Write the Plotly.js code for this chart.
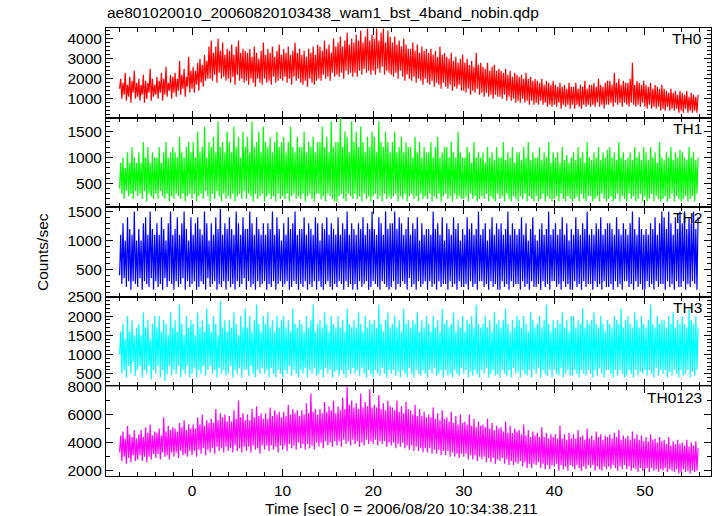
<!DOCTYPE html>
<html>
<head>
<meta charset="utf-8">
<script src="https://cdn.plot.ly/plotly-3.0.1.min.js"></script>
<style>html,body{margin:0;padding:0;background:#fff;}#chart{width:717px;height:516px;}</style>
</head>
<body>
<div id="chart"></div>
<script>
// Time sampling: start -8 s, step 0.125 s
const timeStart = -8;
const timeStep = 0.125;

const bandNames = ["TH0", "TH1", "TH2", "TH3", "TH0123"];
const bandColors = ["#ff0000", "#00ff00", "#0000ff", "#00ffff", "#ff00ff"];

const th0 = [
1500,2000,1000,1800,1200,2300,900,1700,1100,2100,800,1900,1300,2400,1000,1800,
1100,2000,900,1700,1200,2200,800,1900,1000,1800,1300,2500,900,2000,1100,1700,
1200,2100,1000,1900,1300,2300,900,2000,1200,2600,1100,1800,1400,2200,1000,2100,
1300,2300,1100,2000,1400,2900,1200,2200,1500,2500,1100,2100,1600,3100,1300,2400,
1500,2600,1300,2400,1700,2800,1400,3000,1800,2700,1600,3200,1900,2900,2000,3600,
2000,3900,1900,3300,2200,3600,1800,4000,2300,3400,2000,3800,2100,3200,1900,3500,
2000,3400,1800,3700,2100,3200,1700,3600,2200,3900,1900,3300,2000,3500,1800,3400,
1900,3300,1700,3500,2000,3100,1800,3600,1600,3300,2000,3000,1800,3400,1700,3800,
2000,3200,1800,3500,1900,3300,1700,3600,2100,3100,1800,3400,1900,3700,2000,3200,
1900,3500,2100,3300,1800,3600,2000,3200,1700,3400,2100,3800,1900,3300,2000,3500,
1800,3200,1700,3400,1900,3100,1600,3500,2000,3300,1800,3600,1700,3200,1900,3700,
2000,3600,1900,3400,2200,3900,2000,3500,2100,3700,1900,3300,2300,4000,2100,3600,
2200,3800,2100,4100,2300,3600,2000,3900,2400,4300,2200,3700,2300,4000,2100,3800,
2300,4200,2100,3900,2400,4400,2200,3800,2500,4100,2300,4500,2400,3900,2200,4200,
2400,4000,2200,4500,2500,3900,2300,4300,2600,4500,2200,3800,2400,4400,2300,4100,
2200,3800,2100,4100,2300,3700,2000,3900,2400,3600,2100,4000,1900,3700,2200,3500,
2000,3500,1900,3800,2100,3400,1800,3700,2000,3300,1900,3600,1700,3400,2000,3500,
1800,3300,1700,3500,1900,3200,1600,3400,1800,3100,1700,3600,1500,3200,1800,3300,
1600,3100,1500,3000,1700,3300,1400,2900,1600,3100,1500,2800,1700,3000,1400,3200,
1400,2800,1300,3000,1500,2700,1200,2900,1400,2600,1300,3300,1500,2700,1200,2800,
1300,2600,1100,2500,1300,2800,1100,2400,1200,2600,1000,2700,1200,2400,1100,2500,
1100,2400,1000,2300,1200,2500,900,2200,1100,2400,900,2100,1000,2300,800,2200,
900,2100,800,2200,1000,2000,800,2300,900,2000,700,2100,900,1900,700,2000,
800,1900,700,1800,900,2000,700,1700,800,1900,600,1800,700,1700,600,1900,
700,1700,600,1600,800,1800,500,1600,700,1700,600,1500,700,1800,500,1600,
700,1600,500,1800,700,1500,600,1700,500,1600,700,1900,600,1500,700,1700,
600,1700,700,1800,600,1600,800,2000,600,1700,700,1600,500,1800,700,1900,
700,1900,800,1700,600,2300,800,1800,700,2000,800,1700,600,1900,800,1800,
700,1800,600,2000,800,2800,700,1700,600,1900,700,1800,600,1700,800,1900,
600,1700,500,1600,700,1800,500,1500,600,1700,500,1600,600,1500,400,1700,
500,1500,400,1400,600,1300,400,1500,500,1300,400,1400,500,1200,300,1400,
400,1300,300,1200,500,1400,300,1100,400,1300,300,1200,400,1100,300,1200
];

const th1 = [
400,900,300,1000,200,800,350,1100,250,900,300,1200,200,1000,350,900,
250,1100,300,900,200,1300,350,1000,150,1200,300,900,250,1100,200,1000,
300,1000,200,1200,350,900,250,1100,200,1300,300,1000,150,1100,250,1200,
200,1100,300,1000,250,1400,200,1100,300,1000,150,1200,250,1300,300,1100,
200,1300,300,1000,150,1500,250,1100,300,1200,200,1600,350,1000,250,1300,
150,1200,300,1400,200,1100,350,1700,250,1200,150,1300,300,1100,200,1500,
250,1300,200,1100,300,1600,150,1200,250,1400,300,1000,200,1500,350,1200,
200,1400,300,1100,250,1700,150,1200,300,1300,200,1500,250,1100,300,1600,
150,1300,250,1200,300,1400,200,1100,250,1300,150,1500,300,1200,200,1300,
250,1400,200,1100,300,1300,150,1600,250,1200,300,1100,200,1400,250,1200,
200,1200,300,1500,150,1100,250,1300,300,1200,200,1400,150,1100,300,1300,
300,1300,200,1600,250,1200,150,1400,300,1100,250,1700,200,1200,150,1300,
150,1300,250,1800,300,1200,200,1500,150,1400,300,1100,250,1700,200,1300,
300,1500,200,1200,250,1600,150,1300,300,1100,200,1400,250,1200,150,1500,
250,1400,300,1100,200,1700,250,1300,150,1200,300,1500,200,1300,250,1100,
200,1300,250,1500,300,1100,150,1200,250,1400,200,1100,300,1300,150,1200,
250,1200,300,1000,200,1400,250,1100,150,1300,300,1000,200,1200,250,1100,
200,1100,300,1300,150,1000,250,1200,200,1400,300,1000,150,1100,250,1200,
300,1200,200,1000,250,1300,150,1100,300,1000,200,1500,250,1100,200,1000,
200,1000,250,1200,150,1100,300,900,200,1300,250,1000,150,1100,200,1000,
250,1100,200,900,300,1200,150,1000,250,1100,200,950,150,1200,300,1000,
200,1000,250,1300,150,950,300,1100,200,1000,150,1200,250,900,200,1100,
150,1100,250,950,200,1200,300,1000,150,1300,250,950,200,1100,150,1000,
250,1000,150,1200,200,950,300,1100,150,1000,250,1300,200,900,150,1100,
200,1000,250,1100,150,900,300,1200,200,950,150,1050,250,900,200,1000,
150,1100,200,950,250,1200,150,1000,300,1100,200,900,150,1300,250,1000,
250,950,150,1100,200,1000,250,1200,150,950,300,1100,200,1000,150,1150,
200,1200,250,1000,150,1100,200,950,300,1300,150,1000,250,1100,200,950,
150,1000,300,1100,200,950,250,1200,150,1000,200,1100,300,950,150,1200,
250,1100,150,950,200,1200,300,1000,150,1100,250,900,200,1300,150,1000,
200,950,250,1100,150,1000,200,1200,300,950,150,1100,250,1000,200,1150,
150,1100,200,1000,250,950,150,1200,200,1000,250,1100,150,950,300,1000
];

const th2 = [
400,1100,250,1300,350,1000,200,1400,300,1200,150,1100,300,1500,250,1000,
200,1200,350,1000,150,1300,300,1400,250,1100,200,1500,350,1200,150,1100,
300,1300,200,1100,250,1400,150,1200,350,1000,200,1300,300,1500,250,1100,
150,1200,300,1400,200,1100,250,1300,350,1500,150,1200,300,1000,200,1400,
250,1100,300,1300,150,1400,200,1200,300,1100,250,1500,150,1300,350,1000,
200,1300,250,1100,300,1400,150,1200,250,1550,200,1100,300,1300,150,1200,
300,1400,200,1200,250,1100,150,1500,300,1300,200,1100,250,1400,350,1200,
150,1200,300,1500,200,1300,250,1100,150,1400,300,1200,200,1100,250,1300,
300,1100,150,1300,250,1200,200,1500,300,1100,150,1400,250,1200,300,1000,
200,1300,250,1100,300,1400,150,1200,200,1300,300,1500,250,1100,150,1200,
250,1200,200,1400,300,1100,150,1300,250,1200,200,1100,300,1400,150,1300,
300,1000,200,1300,150,1200,250,1400,300,1100,200,1300,150,1200,250,1100,
200,1400,300,1100,250,1300,150,1200,300,1500,200,1100,250,1300,150,1200,
250,1100,150,1300,300,1200,200,1400,250,1100,300,1300,150,1200,200,1500,
300,1200,250,1100,200,1400,150,1300,300,1100,250,1500,200,1200,150,1300,
200,1300,300,1500,150,1200,250,1400,200,1300,300,1100,250,1200,150,1400,
350,1100,200,1300,250,1200,150,1400,300,1000,200,1300,250,1100,300,1200,
150,1200,300,1100,200,1500,250,1200,150,1300,300,1100,200,1400,250,1000,
250,1300,150,1200,300,1100,200,1400,250,1200,150,1300,300,1000,200,1200,
200,1100,250,1400,150,1200,300,1300,200,1100,250,1200,150,1500,300,1100,
300,1200,200,1300,250,1000,150,1200,300,1400,200,1100,250,1300,150,1200,
150,1300,300,1100,200,1200,250,1500,150,1100,300,1300,200,1200,250,1100,
250,1200,150,1400,300,1100,200,1300,250,1000,150,1200,300,1400,200,1100,
200,1000,250,1200,150,1300,300,1100,200,1200,250,1500,150,1100,300,1200,
300,1300,200,1100,250,1200,150,1400,300,1100,200,1300,250,1000,150,1200,
150,1100,300,1400,200,1200,250,1100,150,1300,300,1200,200,1500,250,1100,
250,1200,150,1100,300,1300,200,1200,250,1400,150,1100,300,1200,200,1300,
200,1300,250,1200,150,1100,300,1400,200,1200,250,1100,150,1300,300,1200,
300,1100,200,1300,250,1500,150,1200,300,1100,200,1400,250,1200,150,1100,
150,1200,300,1100,200,1300,250,1200,150,1400,300,1100,200,1300,250,1500,
250,1400,150,1200,300,1500,200,1300,250,1100,150,1400,300,1200,200,1500,
200,1300,300,1500,150,1200,250,1400,200,1300,300,1500,250,1200,150,1400
];

const th3 = [
1000,1600,500,1800,600,1400,400,2000,700,1600,500,1900,800,1500,450,1700,
600,1800,700,1500,400,2100,600,1700,500,1900,700,1400,350,1800,600,2000,
500,1700,700,2000,400,1600,600,1900,300,1800,500,1500,700,2100,450,1700,
600,1900,500,1600,700,2300,400,1800,600,1500,500,2000,700,1700,400,1900,
500,1800,650,1500,400,2100,600,1700,500,1900,700,1600,450,2200,600,1800,
700,1600,500,2000,600,1800,400,1500,650,2400,500,1700,600,1900,450,1600,
500,1900,700,1700,400,2100,600,1800,500,1500,650,2000,400,1700,600,2200,
600,1700,450,2000,700,1600,500,1900,400,2300,600,1800,500,1600,650,2000,
500,1800,600,2100,400,1700,650,1900,500,1600,400,2000,600,1700,500,1900,
400,2000,600,1700,500,1900,700,1600,450,2200,600,1800,500,1700,400,1900,
600,1800,500,1600,650,2000,400,1700,600,1900,500,2300,650,1600,450,1800,
500,1900,600,1700,400,2100,650,1800,500,1600,600,2000,400,1800,550,1700,
600,2000,450,1700,600,1900,500,1600,400,2200,600,1800,500,1700,650,1900,
500,1700,600,2100,450,1800,650,1600,500,2000,400,1700,600,1900,500,1800,
400,1900,600,1700,500,2300,450,1800,650,1600,500,1900,400,2100,600,1700,
500,1800,600,2000,450,1700,550,1900,400,1600,600,2200,500,1800,400,1900,
650,1700,500,1900,400,1800,600,2100,500,1600,450,1900,600,1700,500,2000,
400,1800,600,1600,500,2000,650,1700,450,1900,500,1600,600,2200,400,1800,
600,1900,450,1700,500,1800,400,2100,600,1600,500,1900,450,1700,650,2000,
500,1600,600,1900,400,1800,550,2000,450,1700,600,2300,500,1800,400,1700,
600,1800,500,2000,650,1700,400,1900,500,1600,600,2100,450,1800,500,1900,
400,1700,600,1900,500,2200,450,1800,600,1600,400,1900,650,1700,500,2000,
550,1900,400,1700,600,2000,500,1800,450,1600,600,2100,400,1900,600,1700,
500,1800,650,2000,400,1700,600,1900,500,2300,450,1800,600,1600,400,1900,
600,1700,500,1900,450,1800,650,2100,400,1700,500,1900,600,1600,450,2000,
450,2000,600,1700,500,1900,400,1800,600,2200,500,1700,450,1900,600,1800,
500,1900,400,2100,600,1800,450,1700,650,2000,500,1800,400,1600,600,1900,
600,1800,500,1700,400,2000,600,1900,450,1800,600,2200,500,1700,400,1900,
450,2000,600,1800,500,1700,400,2100,600,1900,450,1700,550,2000,500,1800,
600,1700,450,1900,600,2300,500,1800,400,1700,650,2000,450,1800,600,1900,
500,1900,600,1700,400,2000,550,1800,450,2100,600,1700,500,1900,400,1800,
600,2000,450,1800,500,1700,600,2200,400,1900,550,1800,450,2000,600,1700
];

const th0123 = [
3300,4500,2700,4800,3000,4300,2500,5200,2900,4600,2600,4400,3100,4900,2700,4300,
2800,4600,3100,4900,2700,4400,3000,5100,2600,4700,3000,5300,2800,4500,3200,4800,
2900,4700,3200,5000,2800,4500,3300,5800,3000,4800,3100,5200,2800,4900,3300,5100,
3000,5000,3300,4800,2900,5400,3400,5100,3100,5600,3200,4900,3000,5300,3400,5000,
3100,5300,3400,5000,3000,5800,3500,5300,3200,6000,3600,5200,3100,5600,3500,5400,
3300,5700,3600,5400,3200,6400,3700,5600,3400,6100,3600,5800,3300,6000,3700,5500,
3400,5900,3600,5500,3300,6300,3800,5700,3400,7000,3600,5800,3300,6100,3700,5600,
3400,6000,3700,5600,3300,6400,3800,5800,3500,6600,3600,5900,3200,6100,3800,5700,
3500,6100,3800,5700,3400,6500,3800,5900,3500,6300,3700,6000,3300,6200,3800,5800,
3500,6200,3800,5900,3400,6700,3900,6000,3600,6400,3800,6100,3500,6300,4000,5900,
3600,6300,3900,6000,3500,6800,3900,6100,3600,7500,3800,6200,3500,6400,4000,6000,
3700,6400,4000,6100,3600,6900,4100,6200,3800,6600,4000,6300,3700,7000,4100,6100,
3800,6600,4100,6300,3700,7200,4200,6400,3900,8000,4100,6700,3800,7000,4200,6500,
3900,6800,4100,6400,3700,7500,4000,6500,3800,6900,4200,6600,3900,7800,4100,6500,
3900,6700,4200,6500,3800,7400,4100,6400,3900,6800,4100,6300,3700,7000,4000,6600,
3800,6500,4000,6300,3600,7000,3900,6200,3700,6600,4000,6100,3600,6900,3800,6400,
3500,6300,3800,6000,3400,6700,3700,5900,3400,6400,3600,5900,3300,6200,3600,5800,
3300,6000,3600,5800,3200,6500,3500,5700,3200,6100,3500,5600,3100,6300,3400,5700,
3100,5800,3400,5500,3000,6200,3300,5400,3000,5900,3200,5300,2900,6000,3200,5400,
3000,5500,3200,5300,2800,6000,3100,5200,2800,5700,3100,5100,2700,5500,3000,5200,
2800,5300,3000,5100,2600,5700,2900,5000,2600,5400,2900,4900,2500,5200,2800,5000,
2700,5100,2900,4800,2500,5500,2800,4700,2400,5200,2700,4700,2400,5000,2600,4800,
2500,4900,2700,4600,2300,5300,2600,4500,2200,4900,2500,4400,2200,4800,2500,4500,
2400,4700,2600,4400,2200,5100,2500,4400,2100,4700,2400,4300,2100,4600,2400,4400,
2300,4600,2500,4300,2000,5200,2400,4300,2100,4600,2300,4200,2000,4700,2400,4300,
2300,4600,2100,4300,2400,4900,2200,4400,2000,4500,2300,4200,2100,5000,2400,4300,
2200,4500,2400,4200,2000,4800,2300,4400,2100,4600,2000,4200,2300,4500,2100,4400,
2300,4600,2100,4300,2400,4700,2200,4400,2000,4900,2300,4200,2100,4500,2400,4300,
2100,4500,2300,4200,2000,4800,2200,4300,2100,4600,1900,4200,2200,4500,2000,4100,
2100,4400,2200,4100,1900,4600,2200,4200,2000,4300,2100,4000,1900,4400,2100,4100,
2000,4200,2200,3900,1900,4400,2100,3800,2000,4100,1900,3900,2100,4200,1800,3900,
1900,4000,2100,3800,1900,4200,2000,3700,1800,4000,2000,3800,1900,4100,2000,3600
];

const series = [th0, th1, th2, th3, th0123];

const titleText = "ae801020010_20060820103438_wam1_bst_4band_nobin.qdp";
const xTitle = "Time [sec] 0 = 2006/08/20 10:34:38.211";
const yTitle = "Counts/sec";

const FONT = "Liberation Sans, Arial, Helvetica, sans-serif";
const FS = 15.5;

const traces = series.map((ys, i) => ({
  type: "scatter",
  mode: "lines",
  x0: timeStart,
  dx: timeStep,
  y: ys,
  xaxis: i === 0 ? "x" : "x" + (i + 1),
  yaxis: i === 0 ? "y" : "y" + (i + 1),
  line: { color: bandColors[i], width: 1.2, simplify: false },
  hoverinfo: "skip",
  showlegend: false
}));

const yRanges = [[60, 4530], [40, 1770], [30, 1575], [170, 2502], [1620, 8010]];
const yDticks = [1000, 500, 500, 500, 2000];
const yMinor = [200, 100, 100, 100, 1000];

const layout = {
  width: 717,
  height: 516,
  margin: { l: 106, r: 6, t: 28, b: 40 },
  paper_bgcolor: "#ffffff",
  plot_bgcolor: "#ffffff",
  font: { family: FONT, size: FS, color: "#000" },
  title: {
    text: titleText,
    x: 107 / 717, xanchor: "left", xref: "container",
    y: 1 - 13 / 516, yanchor: "middle", yref: "container",
    font: { family: FONT, size: FS, color: "#000" }
  },
  annotations: [],
  showlegend: false
};

for (let i = 0; i < 5; i++) {
  const xa = {
    range: [-9.5, 57.3],
    domain: [0, 1],
    anchor: i === 0 ? "y" : "y" + (i + 1),
    showline: true, linecolor: "#000", linewidth: 1, mirror: "ticks",
    ticks: "inside", ticklen: 7, tickcolor: "#000", tickwidth: 1,
    dtick: 10, tick0: 0,
    minor: { dtick: 2, ticks: "inside", ticklen: 4, tickcolor: "#000" },
    showgrid: false, zeroline: false,
    showticklabels: i === 4,
    tickfont: { family: FONT, size: FS, color: "#000" }
  };
  if (i > 0) xa.matches = "x";
  layout[i === 0 ? "xaxis" : "xaxis" + (i + 1)] = xa;

  const top = 1 - 0.2 * i, bot = top - 0.2;
  layout[i === 0 ? "yaxis" : "yaxis" + (i + 1)] = {
    domain: [Math.max(0, bot), Math.min(1, top)],
    anchor: i === 0 ? "x" : "x" + (i + 1),
    range: yRanges[i],
    showline: true, linecolor: "#000", linewidth: 1, mirror: "ticks",
    ticks: "inside", ticklen: 7, tickcolor: "#000", tickwidth: 1,
    dtick: yDticks[i], tick0: 0,
    minor: { dtick: yMinor[i], ticks: "inside", ticklen: 4, tickcolor: "#000" },
    showgrid: false, zeroline: false,
    tickfont: { family: FONT, size: FS, color: "#000" }
  };

  const labY = [39, 128, 217, 307, 397][i];
  layout.annotations.push({
    text: bandNames[i], xref: "paper", yref: "paper",
    x: (704 - 106) / 605, xanchor: "right",
    y: (476 - labY) / 448, yanchor: "middle",
    showarrow: false, font: { family: FONT, size: FS, color: "#000" }
  });
}

layout.annotations.push({
  text: yTitle, xref: "paper", yref: "paper",
  x: (42 - 106) / 605, xanchor: "center",
  y: 0.5, yanchor: "middle", textangle: -90,
  showarrow: false, font: { family: FONT, size: FS, color: "#000" }
});
layout.annotations.push({
  text: xTitle, xref: "paper", yref: "paper",
  x: (401.5 - 106) / 605, xanchor: "center",
  y: (476 - 508) / 448, yanchor: "middle",
  showarrow: false, font: { family: FONT, size: FS, color: "#000" }
});

Plotly.newPlot("chart", traces, layout, { staticPlot: true, displayModeBar: false });
</script>
</body>
</html>
